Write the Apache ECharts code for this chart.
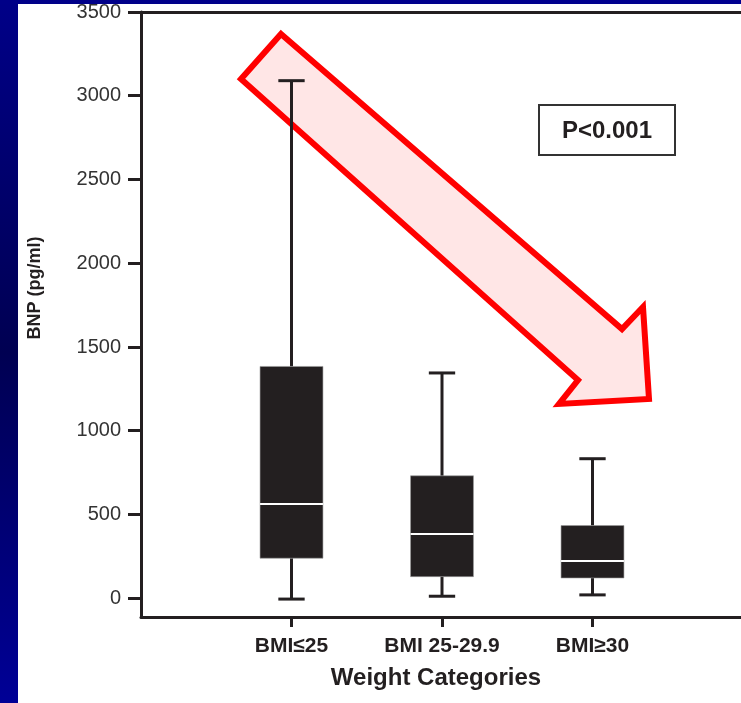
<!DOCTYPE html>
<html>
<head>
<meta charset="utf-8">
<script src="https://cdn.jsdelivr.net/npm/echarts@6/dist/echarts.min.js"></script>
<style>
html,body{margin:0;padding:0;background:#fff;}
#chart{width:741px;height:703px;}
</style>
</head>
<body>
<div id="chart"></div>
<script>
const categories = ['BMI≤25', 'BMI 25-29.9', 'BMI≥30'];
const whiskerLow = [-5, 12, 20];
const q1 = [239, 129, 121];
const median = [562, 384, 223];
const q3 = [1384, 731, 434];
const whiskerHigh = [3090, 1345, 833];
const yTicks = [0, 500, 1000, 1500, 2000, 2500, 3000, 3500];

const axisCats = [''].concat(categories, [' ']);
const boxData = categories.map((c, i) => [c, whiskerLow[i], q1[i], median[i], q3[i], whiskerHigh[i]]);

const FONT = '"Liberation Sans", Arial, Helvetica, sans-serif';
const INK = '#231f20';

const chart = echarts.init(document.getElementById('chart'), null, {renderer: 'canvas'});
chart.setOption({
  backgroundColor: '#ffffff',
  animation: false,
  grid: {left: 141, top: 12, width: 602, height: 605, containLabel: false, outerBoundsMode: 'none'},
  xAxis: [{
    type: 'category',
    data: axisCats,
    boundaryGap: false,
    position: 'bottom',
    axisLine: {show: true, onZero: false, lineStyle: {color: INK, width: 3}},
    axisTick: {show: true, length: 10, lineStyle: {color: INK, width: 3},
      interval: (idx, val) => val.trim() !== ''},
    axisLabel: {show: true, interval: 0, margin: 19, color: INK,
      fontFamily: FONT, fontWeight: 'bold', fontSize: 21},
    splitLine: {show: false},
    name: 'Weight Categories',
    nameLocation: 'middle',
    nameGap: 49,
    nameTextStyle: {color: INK, fontFamily: FONT, fontWeight: 'bold', fontSize: 24, padding: [0, 12, 0, 0]}
  }, {
    type: 'category',
    data: axisCats,
    boundaryGap: false,
    position: 'top',
    axisLine: {show: true, onZero: false, lineStyle: {color: INK, width: 3}},
    axisTick: {show: false},
    axisLabel: {show: false},
    splitLine: {show: false}
  }],
  yAxis: {
    type: 'value',
    min: -112,
    max: 3500,
    axisLine: {show: true, onZero: false, lineStyle: {color: INK, width: 3}},
    axisTick: {show: true, length: 13, customValues: yTicks, lineStyle: {color: INK, width: 3}},
    axisLabel: {show: true, customValues: yTicks, margin: 20, color: '#333333',
      fontFamily: FONT, fontSize: 20, formatter: v => String(v)},
    splitLine: {show: false}
  },
  graphic: [
    {type: 'rect', z: 10, silent: true, shape: {x: 0, y: 0, width: 18, height: 703},
      style: {fill: new echarts.graphic.LinearGradient(0, 0, 0, 1, [
        {offset: 0, color: '#000088'}, {offset: 0.5, color: '#000052'}, {offset: 1, color: '#000096'}])}},
    {type: 'rect', z: 10, silent: true, shape: {x: 0, y: 0, width: 741, height: 4},
      style: {fill: new echarts.graphic.LinearGradient(0, 0, 1, 0, [
        {offset: 0, color: '#000088'}, {offset: 1, color: '#000090'}])}},
    {type: 'polygon', z: 1, silent: true,
      shape: {points: [[281, 34], [622, 329], [643, 307], [649, 399], [559, 404], [578, 380], [241, 79]]},
      style: {fill: '#ffe6e6', stroke: '#ff0000', lineWidth: 6, lineJoin: 'miter'}},
    {type: 'rect', z: 3, silent: true, shape: {x: 539, y: 105, width: 136, height: 50},
      style: {fill: '#ffffff', stroke: '#333333', lineWidth: 2}},
    {type: 'text', z: 4, silent: true, x: 607, y: 131,
      style: {text: 'P<0.001', font: 'bold 24px ' + FONT, fill: INK, align: 'center', verticalAlign: 'middle'}},
    {type: 'text', z: 4, silent: true, x: 35, y: 288, rotation: Math.PI / 2,
      style: {text: 'BNP (pg/ml)', font: 'bold 18px ' + FONT, fill: INK, align: 'center', verticalAlign: 'middle'}}
  ],
  series: [{
    type: 'custom',
    z: 5,
    xAxisIndex: 0,
    yAxisIndex: 0,
    data: boxData,
    encode: {x: 0, y: [1, 2, 3, 4, 5]},
    renderItem: function (params, api) {
      const xi = api.value(0);
      const pLow = api.coord([xi, api.value(1)]);
      const pQ1 = api.coord([xi, api.value(2)]);
      const pMed = api.coord([xi, api.value(3)]);
      const pQ3 = api.coord([xi, api.value(4)]);
      const pHigh = api.coord([xi, api.value(5)]);
      const band = api.size([1, 0])[0];
      const bw = band * 0.418;
      const cw = band * 0.175;
      const cx = pQ1[0];
      const lineStyle = {stroke: INK, lineWidth: 3};
      return {
        type: 'group',
        children: [
          {type: 'line', shape: {x1: cx, y1: pHigh[1], x2: cx, y2: pQ3[1]}, style: lineStyle},
          {type: 'line', shape: {x1: cx, y1: pQ1[1], x2: cx, y2: pLow[1]}, style: lineStyle},
          {type: 'line', shape: {x1: cx - cw / 2, y1: pHigh[1], x2: cx + cw / 2, y2: pHigh[1]}, style: lineStyle},
          {type: 'line', shape: {x1: cx - cw / 2, y1: pLow[1], x2: cx + cw / 2, y2: pLow[1]}, style: lineStyle},
          {type: 'rect', shape: {x: cx - bw / 2, y: pQ3[1], width: bw, height: pQ1[1] - pQ3[1]},
            style: {fill: INK, stroke: '#9a9a9a', lineWidth: 0.6}},
          {type: 'line', shape: {x1: cx - bw / 2, y1: pMed[1], x2: cx + bw / 2, y2: pMed[1]},
            style: {stroke: '#ffffff', lineWidth: 2}}
        ]
      };
    }
  }]
});
</script>
</body>
</html>
